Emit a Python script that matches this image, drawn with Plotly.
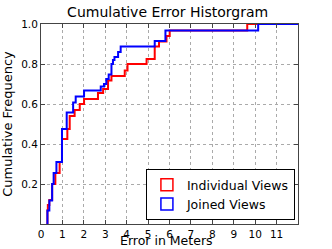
import plotly.graph_objects as go

# Step points (x = error where the step occurs, y = cumulative frequency after step)
red_x = [0.30, 0.30, 0.32, 0.39, 0.52, 0.67, 0.87, 0.98, 1.23, 1.34, 1.57, 1.81, 2.01, 2.66, 2.90,
         3.13, 3.29, 3.91, 4.04, 4.93, 5.31, 5.51, 5.86, 6.01, 9.63, 12.0]
red_y = [0.0, 0.067, 0.095, 0.12, 0.20, 0.255, 0.31, 0.425, 0.475, 0.54, 0.57, 0.60, 0.625, 0.655, 0.675,
         0.718, 0.74, 0.768, 0.80, 0.825, 0.888, 0.913, 0.94, 0.967, 1.0, 1.0]

blue_x = [0.30, 0.30, 0.39, 0.52, 0.59, 0.72, 0.98, 1.20, 1.50, 1.62, 2.01, 2.79, 2.94, 3.05, 3.16,
          3.29, 3.36, 3.43, 3.60, 3.72, 5.31, 5.81, 10.14, 12.0]
blue_y = [0.0, 0.067, 0.117, 0.20, 0.255, 0.31, 0.475, 0.558, 0.608, 0.638, 0.667, 0.688, 0.70, 0.725, 0.747,
          0.80, 0.82, 0.835, 0.86, 0.888, 0.915, 0.967, 1.0, 1.0]

series_names = ["Individual Views", "Joined Views"]
x_ticks = list(range(0, 12))
y_ticks = [0.2, 0.4, 0.6, 0.8, 1.0]
y_tick_text = ["0.2", "0.4", "0.6", "0.8", "1.0"]

RED = "#ff0000"
BLUE = "#0000ff"
FONT = "DejaVu Sans"

fig = go.Figure()
fig.add_trace(go.Scatter(x=red_x, y=red_y, mode="lines", line=dict(color=RED, width=2, shape="hv"),
                         showlegend=False, name=series_names[0]))
fig.add_trace(go.Scatter(x=blue_x, y=blue_y, mode="lines", line=dict(color=BLUE, width=2, shape="hv"),
                         showlegend=False, name=series_names[1]))
# legend entries with open rectangle patches
fig.add_trace(go.Scatter(x=[None], y=[None], mode="markers", name=series_names[0],
                         marker=dict(symbol="square-open", size=12, color=RED, line=dict(width=1.5, color=RED))))
fig.add_trace(go.Scatter(x=[None], y=[None], mode="markers", name=series_names[1],
                         marker=dict(symbol="square-open", size=12, color=BLUE, line=dict(width=1.5, color=BLUE))))

axis_common = dict(
    showline=True, linecolor="#444444", linewidth=1, mirror="ticks",
    ticks="inside", ticklen=4, tickcolor="#444444",
    showgrid=True, gridcolor="#aaaaaa", griddash="dot", gridwidth=1,
    zeroline=False, automargin=False,
    tickfont=dict(family=FONT, size=10.5, color="#000000"),
)

fig.update_layout(
    width=332, height=249,
    margin=dict(l=41, r=34, t=24, b=25),
    paper_bgcolor="white", plot_bgcolor="white",
    font=dict(family=FONT, color="#000000"),
    title=dict(text="Cumulative Error Historgram", x=0.505, xanchor="center", y=0.952, yanchor="middle",
               font=dict(family=FONT, size=14, color="#000000")),
    xaxis=dict(range=[0, 12], tickvals=x_ticks, ticktext=[str(v) for v in x_ticks],
               **axis_common),
    yaxis=dict(range=[0, 1], tickvals=y_ticks, ticktext=y_tick_text,
               title=dict(text="Cumulative Frequency", font=dict(family=FONT, size=13)),
               **axis_common),
    legend=dict(x=0.988, y=0.02, xanchor="right", yanchor="bottom",
                bgcolor="white", bordercolor="#000000", borderwidth=1,
                font=dict(family=FONT, size=12.5), itemwidth=30, tracegroupgap=0),
    showlegend=True,
    annotations=[dict(text="Error in Meters", xref="paper", yref="paper", x=0.49, y=-0.125,
                      xanchor="center", yanchor="bottom", showarrow=False, borderpad=0,
                      font=dict(family=FONT, size=12.5, color="#000000"))],
)

fig.write_html("out.html", config={"displayModeBar": False},
               post_script="document.body.style.margin='0';document.body.style.overflow='hidden';")
